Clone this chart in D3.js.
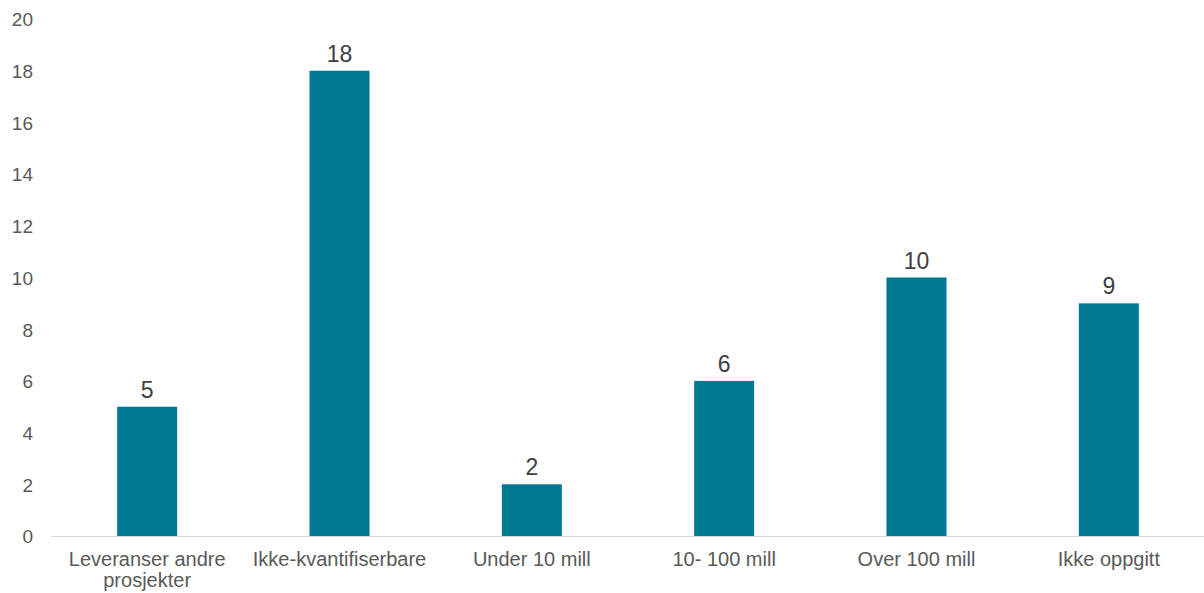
<!DOCTYPE html>
<html><head><meta charset="utf-8">
<script src="https://cdn.jsdelivr.net/npm/d3@7"></script>
<style>body{margin:0;background:#fff;}svg{display:block;font-family:"Liberation Sans",Arial,sans-serif;}</style>
</head><body>
<svg id="c" width="1204" height="593"></svg>
<script>
const categories = [["Leveranser andre","prosjekter"],["Ikke-kvantifiserbare"],["Under 10 mill"],["10- 100 mill"],["Over 100 mill"],["Ikke oppgitt"]];
const values = [5,18,2,6,10,9];
const yTicks = [0,2,4,6,8,10,12,14,16,18,20];

(function(){
const svg = d3.select("#c");
const mLeft = 51, mRight = 1205, mTop = 19, mBottom = 536;
const x = d3.scaleBand().domain(categories.map((d,i)=>i)).range([mLeft,mRight]).paddingInner(0.688).paddingOuter(0.344);
const y = d3.scaleLinear().domain([0,20]).range([mBottom,mTop]);

const yAxis = svg.append("g").attr("transform",`translate(${33},0)`)
  .call(d3.axisLeft(y).tickValues(yTicks).tickSize(0).tickPadding(0));
yAxis.select(".domain").remove();
yAxis.selectAll("text").attr("fill","#595959").attr("font-size","19px").attr("dy","0.36em")
  .attr("font-family","'Liberation Sans',Arial,sans-serif");

svg.selectAll("rect.bar").data(values).enter().append("rect")
  .attr("class","bar")
  .attr("x",(d,i)=>x(i)).attr("width",x.bandwidth())
  .attr("y",d=>y(d)).attr("height",d=>y(0)-y(d))
  .attr("fill","#007A93");

svg.append("line").attr("x1",mLeft).attr("x2",1204).attr("y1",y(0)+0.5).attr("y2",y(0)+0.5)
  .attr("stroke","#d9d9d9").attr("stroke-width",1);

svg.selectAll("text.val").data(values).enter().append("text")
  .attr("class","val")
  .attr("x",(d,i)=>x(i)+x.bandwidth()/2).attr("y",d=>y(d)-9)
  .attr("text-anchor","middle").attr("fill","#404040").attr("font-size","23px")
  .text(d=>d);

const xl = svg.selectAll("text.cat").data(categories).enter().append("text")
  .attr("class","cat")
  .attr("x",(d,i)=>x(i)+x.bandwidth()/2).attr("y",566)
  .attr("text-anchor","middle").attr("fill","#595959").attr("font-size","20px");
xl.each(function(d,i){
  const t = d3.select(this);
  d.forEach((line,j)=>{
    t.append("tspan").attr("x",x(i)+x.bandwidth()/2).attr("dy",j===0?0:21).text(line);
  });
});
})();
</script>
</body></html>
